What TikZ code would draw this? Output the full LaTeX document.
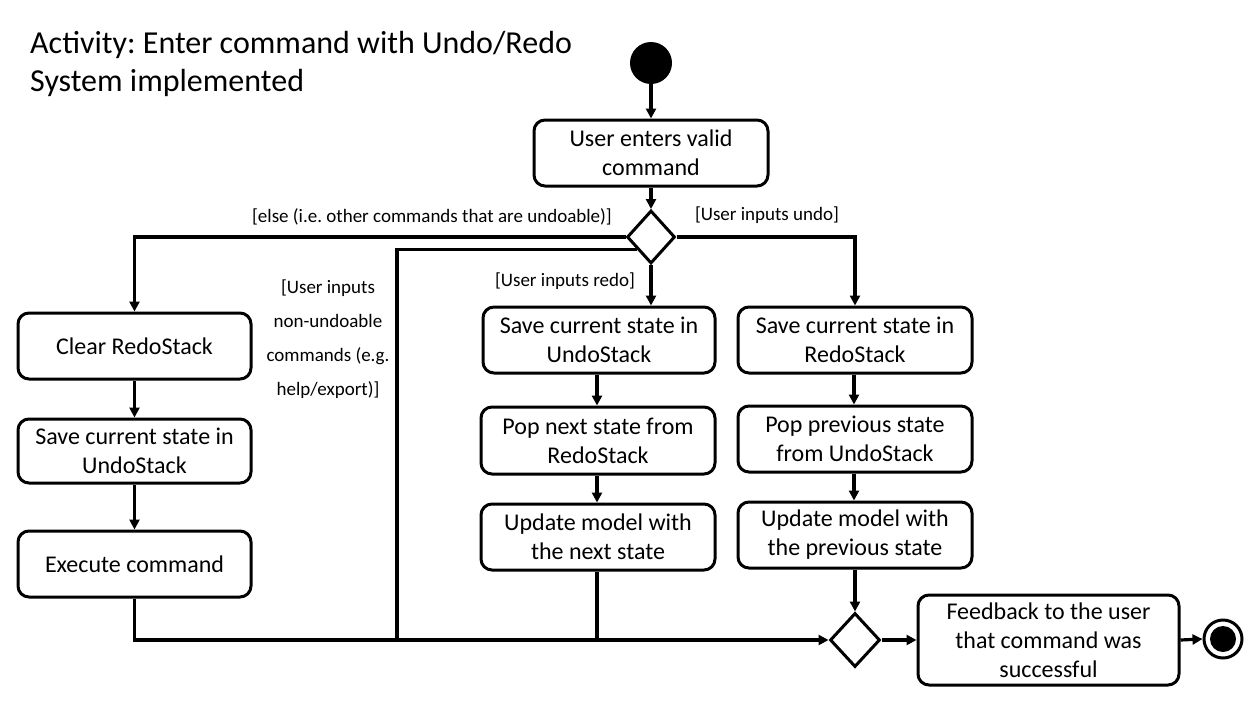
\documentclass[tikz,border=0pt]{standalone}
\usepackage{fontspec}
\setmainfont{Carlito}
\frenchspacing
\usetikzlibrary{shapes.geometric,arrows.meta,calc}
\tikzset{
  act/.style={draw, line width=3pt, rounded corners=11pt, align=center, inner sep=0pt,
    font=\fontsize{24}{29}\selectfont},
  dec/.style={draw, diamond, line width=3pt, inner sep=0pt, minimum width=48pt, minimum height=53pt},
  flow/.style={line width=3.2pt, -{Triangle[length=10pt,width=10pt]}},
  plain/.style={line width=3.2pt},
  guard/.style={font=\fontsize{19}{22}\selectfont, inner sep=0pt},
}
\begin{document}
\begin{tikzpicture}[x=1pt,y=-1pt]
\useasboundingbox (0,0) rectangle (1253,707);
% title
\node[anchor=west, align=left, inner sep=0pt, font=\fontsize{32}{38}\selectfont] (title) at (30,64)
  {Activity: Enter command with Undo/Redo\\System implemented};
% start / end
\node[circle, fill=black, minimum size=42pt, inner sep=0pt] (start) at (651,63) {};
\node[circle, draw, line width=3pt, minimum size=38pt, inner sep=0pt] (end) at (1223,639) {};
\node[circle, fill=black, minimum size=26pt, inner sep=0pt] (endin) at (1223,639) {};
% activities
\node[act, minimum width=234pt, minimum height=66pt] (b1) at (651,153) {User enters valid\\command};
\node[dec] (d1) at (651,237) {};
\node[act, minimum width=233pt, minimum height=66pt] (l1) at (134.5,346) {Clear RedoStack};
\node[act, minimum width=233pt, minimum height=64pt] (l2) at (134.5,451) {Save current state in\\UndoStack};
\node[act, minimum width=233pt, minimum height=66pt] (l3) at (134.5,564) {Execute command};
\node[act, minimum width=232pt, minimum height=66pt] (m1) at (599,340) {Save current state in\\UndoStack};
\node[act, minimum width=234pt, minimum height=67pt] (m2) at (598,440.5) {Pop next state from\\RedoStack};
\node[act, minimum width=234pt, minimum height=66pt] (m3) at (598,537) {Update model with\\the next state};
\node[act, minimum width=234pt, minimum height=66pt] (r1) at (855,340) {Save current state in\\RedoStack};
\node[act, minimum width=234pt, minimum height=66pt] (r2) at (855,439) {Pop previous state\\from UndoStack};
\node[act, minimum width=234pt, minimum height=66pt] (r3) at (855,535) {Update model with\\the previous state};
\node[dec, minimum width=50pt, minimum height=54pt] (d2) at (855,640) {};
\node[act, minimum width=261pt, minimum height=90pt] (fb) at (1048.5,640) {Feedback to the user\\that command was\\successful};
% guards
\node[guard, anchor=east] (gelse) at (612,217) {[else (i.e. other commands that are undoable)]};
\node[guard] (gundo) at (767,215) {[User inputs undo]};
\node[guard] (gredo) at (565,281) {[User inputs redo]};
\node[guard, align=center, font=\fontsize{19}{34}\selectfont] (gnon) at (328,339)
  {[User inputs\\non-undoable\\commands (e.g.\\help/export)]};
% connectors
\coordinate (d1sw) at ($(d1.west)!0.46!(d1.south)$);
\coordinate (k1) at (397,0);
\draw[flow] (start) -- (b1);
\draw[flow] (b1) -- (d1);
\draw[flow] (d1.west) -| (l1.north);
\draw[plain] (d1sw) -| (k1 |- d2.west);
\draw[flow] (d1.south) -- (d1.south |- m1.north);
\draw[flow] (d1.east) -| (r1.north);
\draw[flow] (l1) -- (l2);
\draw[flow] (l2) -- (l3);
\draw[flow] (m1.south -| 597,0) -- (m2.north -| 597,0);
\draw[flow] (m2.south -| 597,0) -- (m3.north -| 597,0);
\draw[flow] (r1.south -| 854,0) -- (r2.north -| 854,0);
\draw[flow] (r2.south -| 854,0) -- (r3.north -| 854,0);
\draw[flow] (r3.south -| d2.north) -- (d2.north);
\draw[flow] (l3.south) |- (d2.west);
\draw[plain] (m3.south -| 597,0) -- (597,0 |- d2.west);
\draw[flow] (d2.east) -- (fb.west);
\draw[flow] (fb.east) -- (end.west);
\end{tikzpicture}
\end{document}
